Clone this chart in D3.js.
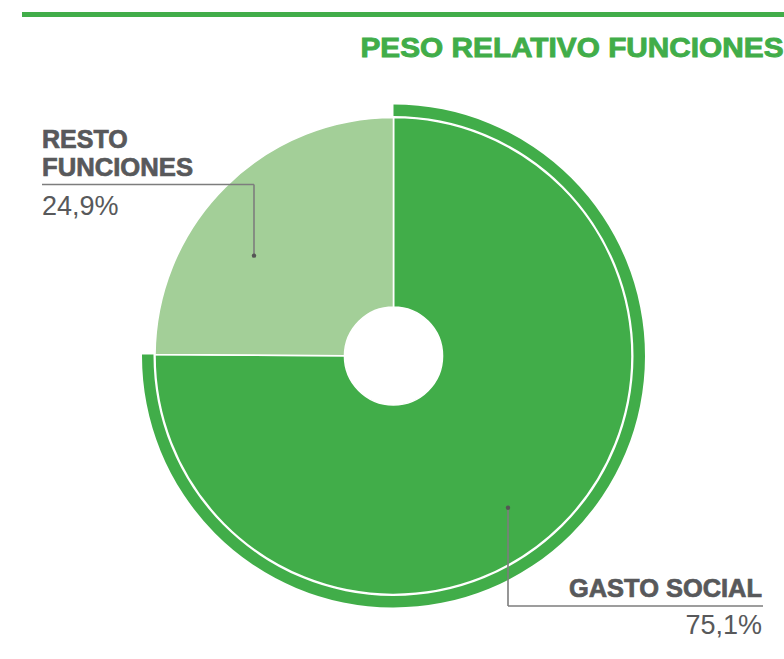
<!DOCTYPE html>
<html>
<head>
<meta charset="utf-8">
<script src="https://cdn.jsdelivr.net/npm/d3@7"></script>
<style>
  html, body { margin: 0; padding: 0; background: #fff; }
  svg { display: block; font-family: "Liberation Sans", Arial, Helvetica, sans-serif; }
</style>
</head>
<body>
<div id="chart"></div>
<script>
// data
const categories = ['GASTO SOCIAL', 'RESTO FUNCIONES'];
const values = [75.1, 24.9];
const colors = ['#41ad49', '#a3cf98'];
const valueLabels = ['75,1%', '24,9%'];
const title = 'PESO RELATIVO FUNCIONES';

const width = 784, height = 659;
const cx = 393.5, cy = 356;
const rInner = 49, rOuter = 238.5;
const ringIn = 240, ringOut = 251.5;

const green = '#41ad49';
const gray = '#58595b';
const lineGray = '#7d7d7d';

const svg = d3.select('#chart').append('svg')
  .attr('width', width)
  .attr('height', height);

// top rule + title
svg.append('rect')
  .attr('x', 22).attr('y', 12)
  .attr('width', width - 22).attr('height', 5)
  .attr('fill', green);

svg.append('text')
  .attr('x', 783.5).attr('y', 56.5)
  .attr('text-anchor', 'end')
  .attr('fill', green)
  .attr('stroke', green)
  .attr('stroke-width', 0.9)
  .style('font-size', '27px')
  .style('font-weight', 'bold')
  .attr('textLength', 423)
  .attr('lengthAdjust', 'spacingAndGlyphs')
  .text(title);

const data = categories.map((c, i) => ({ name: c, value: values[i], color: colors[i], label: valueLabels[i] }));

const pie = d3.pie().sort(null).value(d => d.value);
const arcs = pie(data);

const g = svg.append('g').attr('transform', `translate(${cx},${cy})`);

const arc = d3.arc().innerRadius(rInner).outerRadius(rOuter);
const ringArc = d3.arc().innerRadius(ringIn).outerRadius(ringOut);

g.selectAll('path.slice')
  .data(arcs)
  .join('path')
  .attr('class', 'slice')
  .attr('d', arc)
  .attr('fill', d => d.data.color)
  .attr('stroke', '#fff')
  .attr('stroke-width', 1.6);

// outer ring only on the main slice
g.append('path')
  .attr('d', ringArc(arcs[0]))
  .attr('fill', colors[0]);

// labels with leader lines (layout: dot polar position, label block)
const labelLayout = [
  { dotAngle: 143, dotR: 190, x: 762, anchor: 'end', y1: 597, rule: 606, y2: 634, lineX0: 508, lineX1: 763, w: 193 },
  { dotAngle: 305.7, dotR: 172, x: 42, anchor: 'start', y1: 176, rule: 184.5, y2: 215, lineX0: 42, lineX1: 254, w: 151 }
];

arcs.forEach((a, i) => {
  const L = labelLayout[i];
  const p = d3.pointRadial(L.dotAngle * Math.PI / 180, L.dotR);
  const dx = cx + p[0], dy = cy + p[1];
  const vx = i === 0 ? L.lineX0 : L.lineX1;
  svg.append('path')
    .attr('d', `M${L.lineX0},${L.rule}H${L.lineX1}M${vx},${L.rule}V${dy}`)
    .attr('fill', 'none')
    .attr('stroke', lineGray)
    .attr('stroke-width', 1.6);
  svg.append('circle')
    .attr('cx', vx).attr('cy', dy).attr('r', 2.2)
    .attr('fill', '#555');

  const words = a.data.name.split(' ');
  const lines = i === 1 ? words : [a.data.name];
  const t = svg.append('text')
    .attr('text-anchor', L.anchor)
    .attr('fill', gray)
    .attr('stroke', gray)
    .attr('stroke-width', 0.7)
    .style('font-size', '25px')
    .style('font-weight', 'bold');
  lines.forEach((w, j) => {
    const ts = t.append('tspan')
      .attr('x', L.x)
      .attr('y', L.y1 - (lines.length - 1 - j) * 28)
      .text(w);
    if (j === lines.length - 1) ts.attr('textLength', L.w).attr('lengthAdjust', 'spacingAndGlyphs');
  });
  svg.append('text')
    .attr('x', L.x).attr('y', L.y2)
    .attr('text-anchor', L.anchor)
    .attr('fill', gray)
    .style('font-size', '27px')
    .text(a.data.label);
});
</script>
</body>
</html>
